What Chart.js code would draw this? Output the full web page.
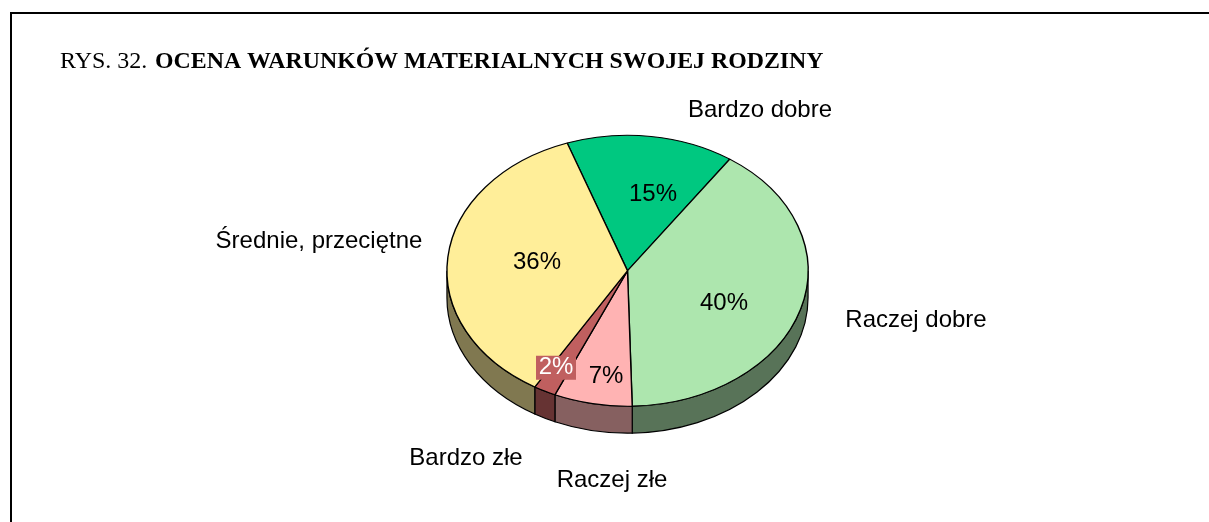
<!DOCTYPE html>
<html>
<head>
<meta charset="utf-8">
<style>html,body{margin:0;padding:0;background:#fff;overflow:hidden}canvas{display:block}</style>
<script src="https://cdn.jsdelivr.net/npm/chart.js@4/dist/chart.umd.min.js"></script>
</head>
<body>
<canvas id="c" width="1209" height="522"></canvas>
<script>
const categories = ['Bardzo dobre', 'Raczej dobre', 'Raczej złe', 'Bardzo złe', 'Średnie, przeciętne'];
const values = [15, 40, 7, 2, 36];
const topColors = ['#00C880', '#ADE6AE', '#FFB3B3', '#C05F5F', '#FFEE99'];
const sideColors = ['#006440', '#587358', '#866060', '#663333', '#807850'];
const titlePrefix = 'RYS. 32. ';
const titleBold = 'OCENA WARUNKÓW MATERIALNYCH SWOJEJ RODZINY';

// Label placement, relative to the pie centre
const percentOffsets = [[25.5, -76], [96.5, 33], [-21.5, 106], [-71.5, 97], [-90.5, -8]];
const nameOffsets = [[132.5, -160], [288.5, 50], [-15.5, 210], [-161.5, 188], [-308.5, -29]];
const squash = 0.75, depth = 27;

const pie3d = {
  id: 'pie3d',
  beforeDatasetsDraw(chart) {
    const ctx = chart.ctx, arcs = chart.getDatasetMeta(0).data;
    const {x: cx, y: cy, outerRadius: r} = arcs[0];
    const rx = r, ry = r * squash;
    const full = Math.PI * 2;
    ctx.save();
    ctx.lineWidth = 1.2; ctx.strokeStyle = '#000';
    arcs.forEach((a, i) => {
      // the front half of the rim is where the angle lies within 0..PI
      [-full, 0, full].forEach(shift => {
        const from = Math.max(a.startAngle + shift, 0);
        const to = Math.min(a.endAngle + shift, Math.PI);
        if (to <= from) return;
        ctx.beginPath();
        ctx.ellipse(cx, cy + depth, rx, ry, 0, from, to);
        ctx.ellipse(cx, cy, rx, ry, 0, to, from, true);
        ctx.closePath();
        ctx.fillStyle = sideColors[i];
        ctx.fill(); ctx.stroke();
      });
    });
    ctx.restore();
    ctx.save();
    ctx.translate(cx, cy); ctx.scale(1, squash); ctx.translate(-cx, -cy);
  },
  afterDatasetsDraw(chart) {
    const ctx = chart.ctx;
    ctx.restore();
    const a0 = chart.getDatasetMeta(0).data[0];
    const cx = a0.x, cy = a0.y;
    ctx.save();
    ctx.textBaseline = 'middle'; ctx.textAlign = 'center';
    ctx.font = '24px "Liberation Sans"';
    values.forEach((v, i) => {
      const px = cx + percentOffsets[i][0], py = cy + percentOffsets[i][1];
      const small = v < 5;
      if (small) {
        ctx.fillStyle = topColors[i];
        ctx.fillRect(px - 20, py - 12, 40, 24);
      }
      ctx.fillStyle = small ? '#fff' : '#000';
      ctx.fillText(v + '%', px, py);
      ctx.fillStyle = '#000';
      ctx.fillText(categories[i], cx + nameOffsets[i][0], cy + nameOffsets[i][1]);
    });
    // Title
    ctx.textAlign = 'left'; ctx.textBaseline = 'alphabetic';
    ctx.font = '24px "Liberation Serif"';
    ctx.fillText(titlePrefix, 60, 68);
    ctx.font = 'bold 23.85px "Liberation Serif"';
    ctx.fillText(titleBold, 155, 68);
    // Frame
    ctx.fillStyle = '#000';
    ctx.fillRect(10, 12, 1199, 2);
    ctx.fillRect(10, 12, 2, 510);
    ctx.restore();
  }
};

new Chart(document.getElementById('c'), {
  type: 'pie',
  data: {
    labels: categories,
    datasets: [{data: values, backgroundColor: topColors, borderColor: '#000', borderWidth: 1.4, hoverOffset: 0}]
  },
  options: {
    responsive: false,
    animation: false,
    rotation: -19.5,
    layout: {padding: {top: 89.5, bottom: 70, left: 446, right: 400}},
    plugins: {legend: {display: false}, tooltip: {enabled: false}, title: {display: false}}
  },
  plugins: [pie3d]
});
</script>
</body>
</html>
